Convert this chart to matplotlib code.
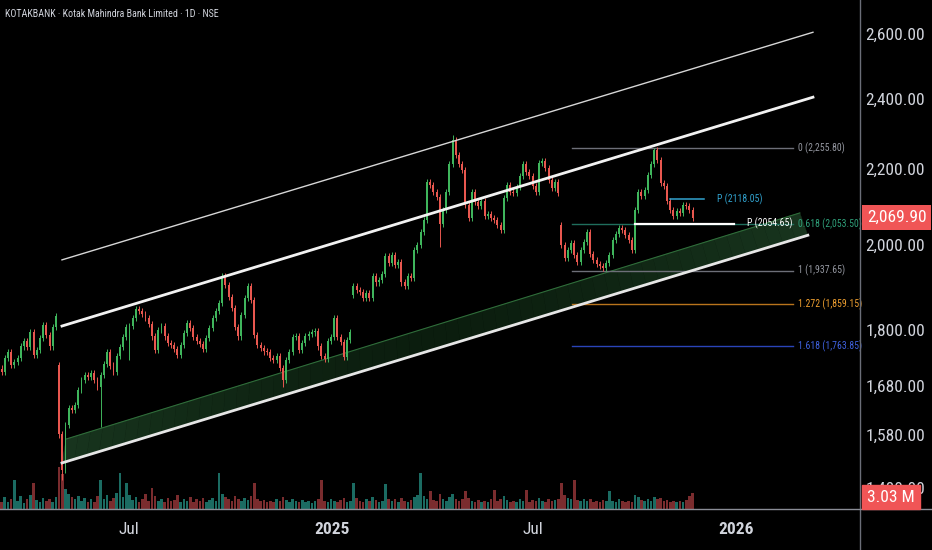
import numpy as np
import matplotlib
matplotlib.use("Agg")
import matplotlib.pyplot as plt
from matplotlib.ticker import FixedLocator, NullLocator
from matplotlib.patches import Rectangle
from matplotlib.colors import to_rgb

FONT = ['Liberation Sans Narrow', 'Roboto Condensed', 'Roboto', 'DejaVu Sans']

# ---- data (one candle = ~2 sessions) ----
closes = [
    1708, 1739, 1751, 1724, 1730, 1739, 1764, 1776, 1762, 1795,
    1745, 1756, 1782, 1811, 1789, 1764, 1807, 1832, 1581, 1513,
    1600, 1634, 1630, 1640, 1671, 1692, 1702, 1698, 1706, 1692,
    1677, 1702, 1726, 1751, 1722, 1708, 1743, 1762, 1784, 1807,
    1809, 1827, 1847, 1843, 1836, 1827, 1813, 1786, 1756, 1800,
    1809, 1786, 1771, 1767, 1758, 1745, 1767, 1793, 1816, 1805,
    1784, 1776, 1769, 1758, 1782, 1805, 1827, 1843, 1861, 1925,
    1903, 1875, 1850, 1807, 1786, 1834, 1873, 1901, 1868, 1789,
    1767, 1760, 1753, 1751, 1739, 1734, 1743, 1717, 1692, 1734,
    1751, 1784, 1786, 1756, 1771, 1786, 1791, 1795, 1798, 1764,
    1743, 1736, 1776, 1784, 1827, 1784, 1773, 1741, 1778, 1795,
    1901, 1892, 1887, 1873, 1885, 1873, 1925, 1910, 1915, 1930,
    1973, 1956, 1976, 1951, 1959, 1910, 1901, 1925, 1920, 1988,
    2000, 2033, 2064, 2164, 2156, 2137, 2123, 2054, 2089, 2137,
    2212, 2279, 2237, 2212, 2196, 2102, 2069, 2137, 2110, 2100,
    2113, 2074, 2079, 2069, 2064, 2051, 2038, 2121, 2156, 2137,
    2134, 2150, 2180, 2212, 2191, 2180, 2153, 2137, 2215, 2220,
    2201, 2169, 2148, 2164, 2134, 2000, 1969, 1988, 2005, 1976,
    1959, 1988, 2008, 2033, 1978, 1964, 1954, 1949, 1944, 1956,
    1976, 2013, 2028, 2043, 2038, 2026, 2013, 1988, 2089, 2137,
    2126, 2142, 2182, 2212, 2251, 2223, 2161, 2153, 2113, 2089,
    2074, 2087, 2082, 2102, 2100, 2089, 2069.90,
]
gap_opens = {18: 1724, 110: 1880, 175: 2051}
wick_lows = {19: 1494, 31: 1596, 40: 1734, 88: 1677, 137: 1996, 188: 1937.65}
wick_highs = {141: 2293, 204: 2255.80, 69: 1932}

volumes = [
    1.4, 2.2, 1.3, 1.8, 5.5, 1.6, 2.4, 1.2, 1.9, 2.6,
    4.9, 1.7, 1.3, 2.0, 1.5, 1.8, 1.4, 2.3, 8.0, 6.6,
    3.8, 2.9, 2.2, 1.8, 2.5, 1.6, 2.1, 1.4, 1.9, 1.3,
    2.4, 5.5, 1.8, 2.7, 1.5, 2.0, 3.1, 6.8, 2.2, 4.9,
    2.6, 1.7, 2.3, 1.4, 1.9, 2.8, 1.6, 4.0, 2.4, 1.5,
    1.8, 1.3, 2.1, 1.5, 1.7, 2.6, 1.4, 1.9, 1.6, 2.2,
    1.3, 1.8, 1.5, 2.0, 1.4, 1.7, 2.1, 1.6, 6.8, 2.9,
    2.3, 1.8, 1.5, 2.4, 1.9, 1.6, 2.0, 1.7, 2.5, 4.9,
    1.9, 1.5, 1.7, 1.4, 1.6, 1.3, 1.8, 1.5, 2.3, 1.7,
    1.4, 1.8, 1.5, 1.3, 1.7, 1.4, 1.6, 1.2, 1.5, 1.9,
    5.5, 1.6, 1.4, 1.8, 1.5, 1.3, 1.7, 2.0, 1.4, 1.6,
    4.9, 2.1, 1.6, 1.4, 1.8, 1.5, 2.2, 1.7, 1.4, 1.6,
    4.7, 1.8, 1.5, 1.9, 1.4, 2.1, 1.6, 1.3, 1.7, 2.3,
    2.6, 6.8, 2.4, 1.9, 3.4, 1.7, 1.5, 2.8, 1.8, 1.6,
    2.2, 2.9, 1.9, 1.6, 1.8, 3.4, 2.0, 1.6, 1.4, 1.7,
    1.3, 1.6, 1.4, 1.8, 3.6, 1.5, 1.9, 2.4, 1.7, 1.4,
    1.6, 1.3, 1.8, 1.5, 3.6, 1.4, 1.7, 1.5, 2.0, 1.6,
    1.4, 1.8, 1.5, 1.7, 1.9, 4.9, 2.6, 2.1, 1.8, 5.5,
    1.7, 1.5, 1.9, 1.6, 1.8, 1.4, 1.6, 1.3, 1.7, 1.5,
    3.4, 1.6, 1.4, 1.8, 1.5, 1.3, 1.6, 1.4, 2.7, 2.2,
    1.7, 1.5, 1.9, 1.6, 2.3, 1.8, 2.1, 1.5, 1.7, 1.4,
    1.6, 1.3, 1.5, 1.4, 1.7, 2.4, 3.03,
]

price_ticks = [2600, 2400, 2200, 2000, 1800, 1680, 1580, 1480]
time_labels = ['Jul', '2025', 'Jul', '2026']
time_slots = [39.8, 103.3, 166.1, 229.5]

# channel drawings: (slot, price) end points
upper_line = ([18.9, 253.6], [1964, 2606])
mid_line = ([18.9, 253.6], [1809, 2404])
low_line = ([18.9, 252.0], [1526, 2025])
band_top = ([20.2, 249.5], [1572, 2082])

fib_ratios = ['0', '0.618', '1', '1.272', '1.618']
fib_prices = [2255.80, 2053.50, 1937.65, 1859.15, 1763.85]
fib_text_col = ['#9598a1', '#2fa07a', '#9598a1', '#f0a030', '#3f62e0']
fib_line_col = ['#6d6f78', '#1f6e5c', '#6d6f78', '#b8741c', '#2a44b8']
fib_span = (178.3, 247.4)

pivots = [2118.05, 2054.65]
pivot_spans = [(208.9, 219.5), (198.0, 228.9)]
pivot_cols = ['#31a3cf', '#ffffff']

last_price = 2069.90
last_volume = '3.03 M'

UP, DOWN = '#3fb55c', '#e8574f'
VUP, VDOWN = '#1b6b62', '#7a2c2e'
TXT = '#d1d4dc'

# ---- figure ----
fig = plt.figure(figsize=(9.32, 5.5), dpi=100, facecolor='black')
rect = [0, 41 / 550, 860 / 932, 509 / 550]
axv = fig.add_axes(rect)
ax = fig.add_axes(rect)
axv.set_facecolor('black')
ax.set_facecolor('none')

x = np.arange(len(closes))
c = np.array(closes, float)
o = np.r_[1716.0, c[:-1]]
for k, v in gap_opens.items():
    o[k] = v
hi = np.maximum(o, c) * 1.004
lo = np.minimum(o, c) * 0.996
for k, v in wick_lows.items():
    lo[k] = v
for k, v in wick_highs.items():
    hi[k] = v
up = c >= o
col = np.where(up, UP, DOWN)

# volume
vcol = np.where(up, VUP, VDOWN)
axv.bar(x, volumes, width=0.8, color=vcol, linewidth=0)
axv.set_ylim(0, 96.4)
axv.set_xlim(-0.47, 268.3)
axv.set_axis_off()

# band: strips shaded lighter at the ends, darker in the middle
c_end, c_mid = np.array(to_rgb('#18351e')), np.array(to_rgb('#0b1d0e'))
n = 60
lt0, lt1 = np.log(band_top[1])
lb0, lb1 = np.log(low_line[1])
for j in range(n):
    t0, t1 = j / n, (j + 1) / n
    xs_t = [band_top[0][0] + (band_top[0][1] - band_top[0][0]) * t for t in (t0, t1)]
    xs_b = [low_line[0][0] + (low_line[0][1] - low_line[0][0]) * t for t in (t1, t0)]
    ys_t = [np.exp(lt0 + (lt1 - lt0) * t) for t in (t0, t1)]
    ys_b = [np.exp(lb0 + (lb1 - lb0) * t) for t in (t1, t0)]
    w = abs((t0 + t1) / 2 - 0.5) * 2
    fc = c_mid + (c_end - c_mid) * w ** 1.5
    ax.fill(xs_t + xs_b, ys_t + ys_b, color=fc, lw=0.3, ec=fc, zorder=1)
ax.plot(*band_top, color='#2f6d3a', lw=0.8, zorder=2)

# fib levels
for r, p, tc, lc in zip(fib_ratios, fib_prices, fib_text_col, fib_line_col):
    ax.plot(fib_span, [p, p], color=lc, lw=1, zorder=2)
    ax.text(fib_span[1] + 1.6, p, f'{r} ({p:,.2f})', color=tc, fontsize=7,
            family=FONT, va='center', ha='left', zorder=6)

# candles
ax.vlines(x, lo, hi, colors=col, lw=0.7, zorder=3)
ax.bar(x, np.maximum(np.abs(c - o), c * 0.0015), bottom=np.minimum(o, c),
       width=0.62, color=col, linewidth=0, zorder=3)

ax.plot(*upper_line, color='#d6d6d6', lw=1.0, zorder=4)
ax.plot(*mid_line, color='#f2f2f2', lw=2.0, zorder=4)
ax.plot(*low_line, color='#e6e6e6', lw=2.0, zorder=4)

# pivots
for p, (a, b), pc in zip(pivots, pivot_spans, pivot_cols):
    ax.plot([a, b], [p, p], color=pc, lw=1.6 if pc == '#ffffff' else 1.1, zorder=5)
    ax.text(b + 4.2, p, f'P ({p})', color=pc, fontsize=7, family=FONT,
            va='center', ha='left', zorder=6)

ax.set_yscale('log')
ax.set_ylim(1441.1, 2712.6)
ax.set_xlim(-0.47, 268.3)
for s in ax.spines.values():
    s.set_visible(False)

ax.yaxis.tick_right()
ax.yaxis.set_major_locator(FixedLocator(price_ticks))
ax.yaxis.set_minor_locator(NullLocator())
ax.set_yticklabels([f'{t:,.2f}' for t in price_ticks])
ax.tick_params(axis='y', length=0, pad=4, labelsize=12.5, labelcolor=TXT)
ax.set_xticks(time_slots)
ax.set_xticklabels(time_labels)
ax.tick_params(axis='x', length=0, pad=9, labelsize=12.5, labelcolor=TXT)
for lab in ax.get_xticklabels() + ax.get_yticklabels():
    lab.set_family(FONT)
for lab in ax.get_xticklabels():
    if lab.get_text().isdigit():
        lab.set_fontweight('bold')

# separators
fig.add_artist(plt.Line2D([860 / 932, 860 / 932], [0, 1], color='#6b6e78', lw=1))
fig.add_artist(plt.Line2D([0, 1], [41 / 550, 41 / 550], color='#8a8d96', lw=1))

# last price / volume tags
ax.text(867 / 860, last_price, f'{last_price:,.2f}', transform=ax.get_yaxis_transform(),
        color='white', fontsize=12.5, family=FONT, va='center', ha='left', zorder=10,
        bbox=dict(boxstyle='square,pad=0.28', fc='#f05556', ec='none'))
fig.add_artist(Rectangle((862 / 932, 41 / 550), 58 / 932, 24 / 550, color='#f05556',
                         transform=fig.transFigure, zorder=10))
fig.text(891 / 932, 1 - 497 / 550, last_volume, color='white', fontsize=12.5,
         family=FONT, ha='center', va='center', zorder=11)

fig.text(5 / 932, 1 - 14 / 550, 'KOTAKBANK · Kotak Mahindra Bank Limited · 1D · NSE',
         color=TXT, fontsize=7.2, family=FONT, ha='left', va='center')

fig.savefig('out.png', dpi=100, facecolor='black')
